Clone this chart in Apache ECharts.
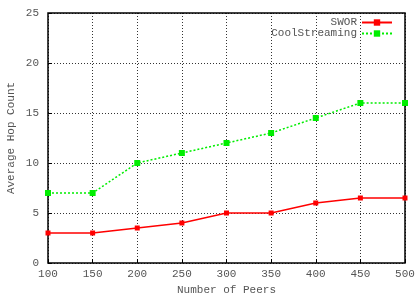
<!DOCTYPE html>
<html lang="en">
<head>
  <meta charset="UTF-8">
  <title>Average Hop Count</title>
  <script src="https://cdn.jsdelivr.net/npm/echarts@6/dist/echarts.min.js"></script>
  <style>
    html, body { margin: 0; padding: 0; background: #fff; }
    #main { width: 417px; height: 297px; }
  </style>
</head>
<body>
  <div id="main"></div>
  <script type="text/javascript">
    // values
    var peers = [100, 150, 200, 250, 300, 350, 400, 450, 500];
    var swor = [3, 3, 3.5, 4, 5, 5, 6, 6.5, 6.5];
    var coolStreaming = [7, 7, 10, 11, 12, 13, 14.5, 16, 16];

    var font = 'Liberation Mono';
    var pairs = function (ys) {
      return peers.map(function (x, i) { return [x, ys[i]]; });
    };

    var myChart = echarts.init(document.getElementById('main'));
    myChart.setOption({
      animation: false,
      grid: {
        left: 48, right: 12, top: 13, bottom: 34,
        outerBoundsMode: 'none', containLabel: false,
        show: true, borderColor: '#000', borderWidth: 1.5
      },
      legend: {
        right: 19, top: 12, orient: 'vertical', align: 'right',
        itemWidth: 30, itemHeight: 8, itemGap: 0,
        textStyle: { fontFamily: font, fontSize: 11, color: '#555' },
        data: ['SWOR', 'CoolStreaming']
      },
      xAxis: {
        type: 'value', min: 100, max: 500, interval: 50,
        name: 'Number of Peers', nameLocation: 'middle', nameGap: 22,
        nameMoveOverlap: false,
        nameTextStyle: { fontFamily: font, fontSize: 11, color: '#555' },
        axisLine: { show: false },
        axisTick: { inside: true, length: 4, lineStyle: { color: '#000' } },
        axisLabel: { fontFamily: font, fontSize: 11, color: '#555', margin: 6 },
        splitLine: { lineStyle: { color: '#000', type: [1, 2], width: 0.8 } }
      },
      yAxis: {
        type: 'value', min: 0, max: 25, interval: 5,
        name: 'Average Hop Count', nameLocation: 'middle', nameGap: 31,
        nameMoveOverlap: false,
        nameTextStyle: { fontFamily: font, fontSize: 11, color: '#555' },
        axisLine: { show: false },
        axisTick: { inside: true, length: 4, lineStyle: { color: '#000' } },
        axisLabel: { fontFamily: font, fontSize: 11, color: '#555', margin: 9 },
        splitLine: { lineStyle: { color: '#000', type: [1, 2], width: 0.8 } }
      },
      series: [
        {
          name: 'SWOR', type: 'line', data: pairs(swor),
          symbol: 'rect', symbolSize: 5,
          lineStyle: { color: '#ff0000', width: 1.5 },
          itemStyle: { color: '#ff0000' }
        },
        {
          name: 'CoolStreaming', type: 'line', data: pairs(coolStreaming),
          symbol: 'rect', symbolSize: 6,
          lineStyle: { color: '#00ee00', width: 1.5, type: [2, 2] },
          itemStyle: { color: '#00ee00' }
        }
      ]
    });
  </script>
</body>
</html>
